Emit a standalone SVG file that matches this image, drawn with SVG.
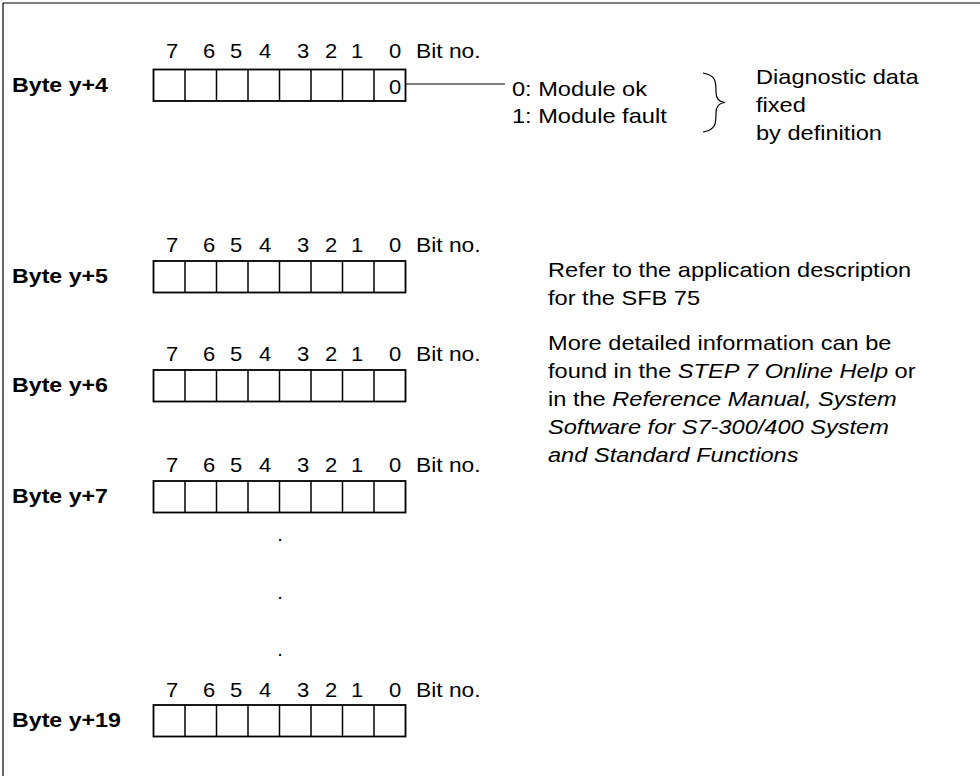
<svg xmlns="http://www.w3.org/2000/svg" width="980" height="776" viewBox="0 0 980 776">
<defs>
<style>
text{font-family:"Liberation Sans",Arial,sans-serif;font-size:20px;fill:#000}
.lbl{font-weight:bold}
.d{text-anchor:middle}
.it{font-style:italic}
.box{fill:#fff;stroke:#000;stroke-width:1.8}
.div{stroke:#000;stroke-width:1.5}
.ln{stroke:#000;stroke-width:1.2;fill:none}
</style>
<g id="cells">
<rect class="box" x="153.5" y="0" width="252" height="31.5"/>
<line class="div" x1="185" y1="0" x2="185" y2="31.5"/>
<line class="div" x1="216.5" y1="0" x2="216.5" y2="31.5"/>
<line class="div" x1="248" y1="0" x2="248" y2="31.5"/>
<line class="div" x1="279.5" y1="0" x2="279.5" y2="31.5"/>
<line class="div" x1="311" y1="0" x2="311" y2="31.5"/>
<line class="div" x1="342.5" y1="0" x2="342.5" y2="31.5"/>
<line class="div" x1="374" y1="0" x2="374" y2="31.5"/>
</g>
<g id="bits">
<text class="d" transform="translate(172,0) scale(1.1,1)">7</text>
<text class="d" transform="translate(209,0) scale(1.1,1)">6</text>
<text class="d" transform="translate(236,0) scale(1.1,1)">5</text>
<text class="d" transform="translate(265,0) scale(1.1,1)">4</text>
<text class="d" transform="translate(303,0) scale(1.1,1)">3</text>
<text class="d" transform="translate(331,0) scale(1.1,1)">2</text>
<text class="d" transform="translate(357,0) scale(1.1,1)">1</text>
<text class="d" transform="translate(395,0) scale(1.1,1)">0</text>
<text transform="translate(416,0) scale(1.14,1)">Bit no.</text>
</g>
</defs>

<g id="frame">
<line class="ln" x1="3" y1="3" x2="980" y2="3" stroke-width="1.5"/>
<line class="ln" x1="3" y1="3" x2="3" y2="776" stroke-width="1.5"/>
</g>

<g id="byte-y4">
<text class="lbl" transform="translate(12,92) scale(1.16,1)">Byte y+4</text>
<use href="#bits" y="58"/>
<use href="#cells" y="69.5"/>
<text class="d" transform="translate(395,94) scale(1.1,1)">0</text>
</g>

<g id="byte-y5">
<text class="lbl" transform="translate(12,283) scale(1.16,1)">Byte y+5</text>
<use href="#bits" y="252"/>
<use href="#cells" y="261"/>
</g>

<g id="byte-y6">
<text class="lbl" transform="translate(12,392) scale(1.16,1)">Byte y+6</text>
<use href="#bits" y="361"/>
<use href="#cells" y="370"/>
</g>

<g id="byte-y7">
<text class="lbl" transform="translate(12,503) scale(1.16,1)">Byte y+7</text>
<use href="#bits" y="472"/>
<use href="#cells" y="481"/>
</g>

<g id="dots">
<text class="d" x="280" y="541">.</text>
<text class="d" x="280" y="599">.</text>
<text class="d" x="280" y="656">.</text>
</g>

<g id="byte-y19">
<text class="lbl" transform="translate(12,727) scale(1.16,1)">Byte y+19</text>
<use href="#bits" y="697"/>
<use href="#cells" y="705"/>
</g>

<g id="connectors">
<line class="ln" x1="405.5" y1="84" x2="505" y2="84"/>
<path class="ln" d="M703,73 C716,75 716,82 716,92 C716,98 718,102 725,102.5 C718,103 716,107 716,113 C716,123 716,130 703,132"/>
</g>

<g id="status">
<text transform="translate(512,96) scale(1.18,1)">0: Module ok</text>
<text transform="translate(512,123) scale(1.18,1)">1: Module fault</text>
</g>

<g id="diag">
<text transform="translate(756,84) scale(1.18,1)">Diagnostic data</text>
<text transform="translate(756,112) scale(1.18,1)">fixed</text>
<text transform="translate(756,140) scale(1.18,1)">by definition</text>
</g>

<g id="notes">
<text transform="translate(548,277) scale(1.18,1)">Refer to the application description</text>
<text transform="translate(548,305) scale(1.18,1)">for the SFB 75</text>
<text transform="translate(548,350) scale(1.18,1)">More detailed information can be</text>
<text transform="translate(548,378) scale(1.18,1)">found in the <tspan class="it">STEP 7 Online Help</tspan> or</text>
<text transform="translate(548,406) scale(1.18,1)">in the <tspan class="it">Reference Manual, System</tspan></text>
<text transform="translate(548,434) scale(1.18,1)" class="it">Software for S7-300/400 System</text>
<text transform="translate(548,462) scale(1.18,1)" class="it">and Standard Functions</text>
</g>
</svg>
